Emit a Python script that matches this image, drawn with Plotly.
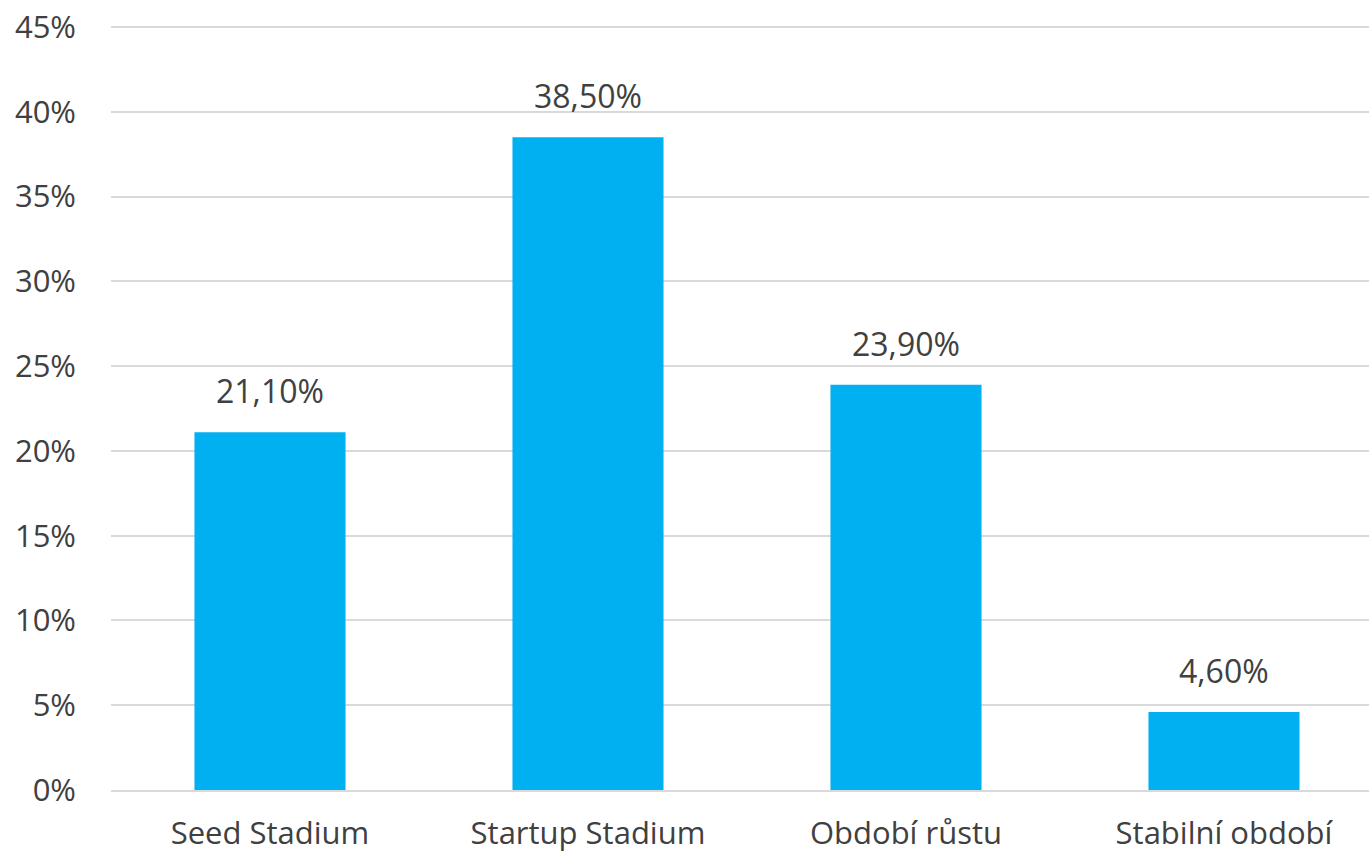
import plotly.graph_objects as go

# Shares of companies by development stage
categories = ["Seed Stadium", "Startup Stadium", "Období růstu", "Stabilní období"]
values = [21.10, 38.50, 23.90, 4.60]
value_labels = ["21,10%", "38,50%", "23,90%", "4,60%"]
y_ticks = [0, 5, 10, 15, 20, 25, 30, 35, 40, 45]
y_tick_labels = ["0%", "5%", "10%", "15%", "20%", "25%", "30%", "35%", "40%", "45%"]

FONT = "Open Sans"
TEXT = "#404040"

fig = go.Figure(
    go.Bar(
        x=list(range(len(categories))),
        y=values,
        width=0.475,
        marker=dict(color="#00B0F0", line=dict(width=0)),
        hoverinfo="skip",
    )
)

for i, (v, lab) in enumerate(zip(values, value_labels)):
    fig.add_annotation(
        x=i, y=v, text=lab, showarrow=False,
        yanchor="bottom", yshift=18,
        font=dict(family=FONT, size=32, color=TEXT),
    )

fig.update_layout(
    width=1369, height=853,
    margin=dict(l=111, r=0, t=26, b=63),
    paper_bgcolor="white", plot_bgcolor="white",
    showlegend=False,
    font=dict(family=FONT, color=TEXT),
)
fig.update_xaxes(
    range=[-0.5, 3.456],
    tickmode="array",
    tickvals=list(range(len(categories))),
    ticktext=categories,
    tickfont=dict(family=FONT, size=31, color=TEXT),
    showgrid=False, zeroline=False,
    showline=True, linecolor="#d9d9d9", linewidth=1.5,
    ticks="", ticklabelstandoff=15,
    automargin=False,
)
fig.update_yaxes(
    range=[0, 45.06],
    tickmode="array",
    tickvals=y_ticks,
    ticktext=y_tick_labels,
    tickfont=dict(family=FONT, size=31, color=TEXT),
    showgrid=True, gridcolor="#d9d9d9", gridwidth=1.5,
    zeroline=False, showline=False,
    ticks="", ticklabelstandoff=34,
    automargin=False,
)

fig.write_html("out.html")
